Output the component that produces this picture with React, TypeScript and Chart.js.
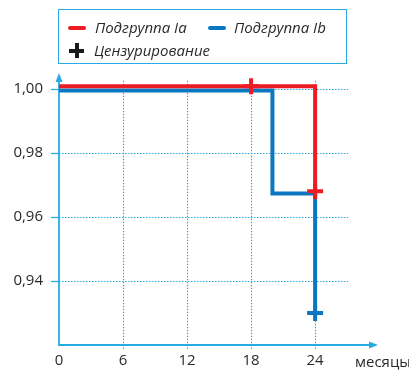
import React, { useEffect, useRef } from "react";
import { Chart, registerables } from "chart.js";

Chart.register(...registerables);

// ---- data ----
const monthTicks = [0, 6, 12, 18, 24];
const survivalTicks = [1.0, 0.98, 0.96, 0.94];

const groupIaMonths = [0, 24];
const groupIaSurvival = [1.0008, 0.968];
const groupIaCensoredMonths = [18, 24];
const groupIaCensoredSurvival = [1.0008, 0.968];

const groupIbMonths = [0, 20, 24];
const groupIbSurvival = [0.9994, 0.9673, 0.93];
const groupIbCensoredMonths = [24];
const groupIbCensoredSurvival = [0.93];

const labelIa = "Подгруппа Ia";
const labelIb = "Подгруппа Ib";
const labelCensor = "Цензурирование";
const xUnit = "месяцы";

// ---- styles ----
const RED = "#ec1c24";
const BLUE = "#0a78c0";
const AXIS = "#29abe2";
const TEXT = "#2b2a29";
const FONT = "'Open Sans', sans-serif";

const pts = (xs: number[], ys: number[]) => xs.map((x, i) => ({ x, y: ys[i] }));

const axesPlugin = {
  id: "customAxes",
  beforeDatasetsDraw(chart: any) {
    const { ctx, chartArea, scales } = chart;
    const xs = scales.x;
    const ys = scales.y;
    const left = chartArea.left;
    const bottom = chartArea.bottom;
    const gridRight = xs.getPixelForValue(27.1);
    const gridTop = ys.getPixelForValue(1.0025);
    ctx.save();
    // dotted grid
    ctx.strokeStyle = AXIS;
    ctx.lineWidth = 1.2;
    ctx.setLineDash([1.5, 1.5]);
    survivalTicks.forEach((v) => {
      const y = Math.round(ys.getPixelForValue(v)) + 0.5;
      ctx.beginPath();
      ctx.moveTo(left, y);
      ctx.lineTo(gridRight, y);
      ctx.stroke();
    });
    monthTicks.forEach((m) => {
      if (m === 0) return;
      const x = Math.round(xs.getPixelForValue(m)) + 0.5;
      ctx.beginPath();
      ctx.moveTo(x, gridTop);
      ctx.lineTo(x, bottom + 4);
      ctx.stroke();
    });
    ctx.setLineDash([]);
    // y tick marks
    ctx.lineWidth = 1.3;
    survivalTicks.forEach((v) => {
      const y = Math.round(ys.getPixelForValue(v)) + 0.5;
      ctx.beginPath();
      ctx.moveTo(left - 8, y);
      ctx.lineTo(left, y);
      ctx.stroke();
    });
    // axes lines
    ctx.lineWidth = 1.8;
    ctx.beginPath();
    ctx.moveTo(left, chartArea.top + 6);
    ctx.lineTo(left, bottom);
    ctx.lineTo(chartArea.right - 6, bottom);
    ctx.stroke();
    // arrow heads
    ctx.fillStyle = AXIS;
    ctx.beginPath();
    ctx.moveTo(left, chartArea.top);
    ctx.lineTo(left - 3.5, chartArea.top + 9);
    ctx.lineTo(left + 3.5, chartArea.top + 9);
    ctx.closePath();
    ctx.fill();
    ctx.beginPath();
    ctx.moveTo(chartArea.right + 1, bottom);
    ctx.lineTo(chartArea.right - 8, bottom - 3.5);
    ctx.lineTo(chartArea.right - 8, bottom + 3.5);
    ctx.closePath();
    ctx.fill();
    // unit label
    ctx.fillStyle = TEXT;
    ctx.font = `15px ${FONT}`;
    ctx.textAlign = "left";
    ctx.textBaseline = "alphabetic";
    ctx.fillText(xUnit, 355, 367);
    ctx.restore();
  },
};

export default function App() {
  const canvasRef = useRef<HTMLCanvasElement | null>(null);

  useEffect(() => {
    const canvas = canvasRef.current;
    if (!canvas) return;
    const chart = new Chart(canvas, {
      type: "line",
      data: {
        datasets: [
          {
            label: "censor Ia",
            data: pts(groupIaCensoredMonths, groupIaCensoredSurvival),
            showLine: false,
            pointStyle: "cross",
            pointRadius: 8,
            pointBorderWidth: 4,
            borderColor: RED,
            backgroundColor: RED,
          },
          {
            label: labelIa,
            data: pts(groupIaMonths, groupIaSurvival),
            stepped: true,
            borderColor: RED,
            borderWidth: 4,
            pointRadius: 0,
            borderJoinStyle: "miter",
            borderCapStyle: "butt",
            fill: false,
          },
          {
            label: "censor Ib",
            data: pts(groupIbCensoredMonths, groupIbCensoredSurvival),
            showLine: false,
            pointStyle: "cross",
            pointRadius: 8,
            pointBorderWidth: 4,
            borderColor: BLUE,
            backgroundColor: BLUE,
          },
          {
            label: labelIb,
            data: pts(groupIbMonths, groupIbSurvival),
            stepped: true,
            borderColor: BLUE,
            borderWidth: 4,
            pointRadius: 0,
            borderJoinStyle: "miter",
            borderCapStyle: "butt",
            fill: false,
          },
        ],
      },
      options: {
        animation: false,
        responsive: false,
        events: [],
        layout: { padding: { top: 73, right: 32, left: 0, bottom: 0 } },
        plugins: { legend: { display: false }, tooltip: { enabled: false } },
        scales: {
          x: {
            type: "linear",
            min: 0,
            max: 29.8,
            grid: { display: false, drawTicks: false },
            border: { display: false },
            afterBuildTicks: (s: any) => {
              s.ticks = monthTicks.map((v) => ({ value: v }));
            },
            afterFit: (s: any) => {
              s.height = 25;
            },
            ticks: {
              padding: 7,
              color: TEXT,
              font: { family: FONT, size: 15 },
              maxRotation: 0,
              autoSkip: false,
              callback: (v: any) => String(v),
            },
          },
          y: {
            type: "linear",
            min: 0.92,
            max: 1.0049,
            grid: { display: false, drawTicks: false },
            border: { display: false },
            afterBuildTicks: (s: any) => {
              s.ticks = survivalTicks.map((v) => ({ value: v }));
            },
            afterFit: (s: any) => {
              s.width = 59;
            },
            ticks: {
              padding: 16,
              color: TEXT,
              font: { family: FONT, size: 15 },
              autoSkip: false,
              callback: (v: any) => Number(v).toFixed(2).replace(".", ","),
            },
          },
        },
      },
      plugins: [axesPlugin],
    });
    return () => chart.destroy();
  }, []);

  const textStyle: React.CSSProperties = {
    position: "absolute",
    fontFamily: FONT,
    fontStyle: "italic",
    fontSize: 15,
    lineHeight: "18px",
    color: TEXT,
    whiteSpace: "nowrap",
  };
  const swatch = (left: number, top: number, color: string): React.CSSProperties => ({
    position: "absolute",
    left,
    top,
    width: 18,
    height: 3.5,
    borderRadius: 2,
    background: color,
  });

  return (
    <div style={{ position: "fixed", left: 0, top: 0, width: 409, height: 370, background: "#fff" }}>
      <canvas ref={canvasRef} width={409} height={370} style={{ position: "absolute", left: 0, top: 0 }} />
      <div
        style={{
          position: "absolute",
          left: 58,
          top: 9,
          width: 287,
          height: 53,
          border: `1.5px solid ${AXIS}`,
        }}
      />
      <div style={swatch(68, 26, RED)} />
      <span style={{ ...textStyle, left: 95, top: 18 }}>{labelIa}</span>
      <div style={swatch(208, 26, BLUE)} />
      <span style={{ ...textStyle, left: 234, top: 18 }}>{labelIb}</span>
      <div style={{ position: "absolute", left: 69, top: 48.5, width: 15, height: 4, background: "#1a1a1a" }} />
      <div style={{ position: "absolute", left: 74.5, top: 43, width: 4, height: 15, background: "#1a1a1a" }} />
      <span style={{ ...textStyle, left: 94, top: 41 }}>{labelCensor}</span>
    </div>
  );
}
